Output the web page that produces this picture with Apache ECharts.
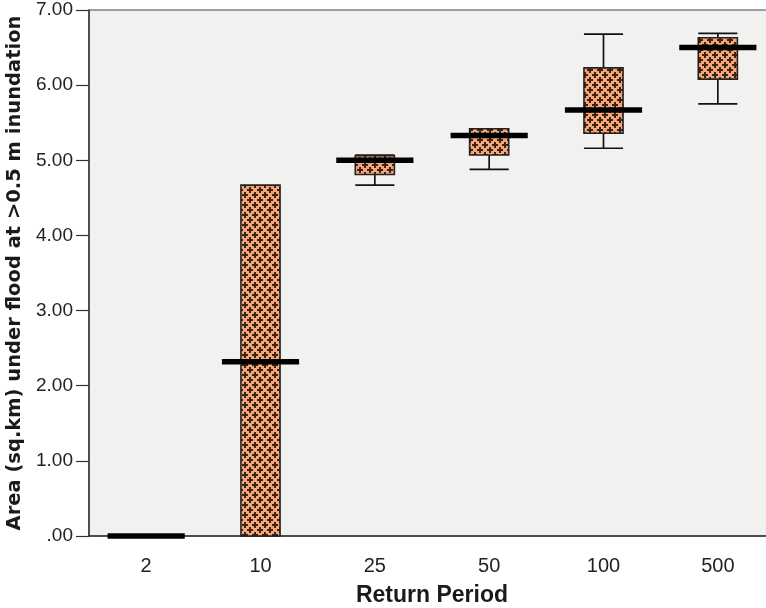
<!DOCTYPE html>
<html>
<head>
<meta charset="utf-8">
<script src="https://cdn.jsdelivr.net/npm/echarts@6/dist/echarts.min.js"></script>
<style>
html,body{margin:0;padding:0;background:#fff;}
#chart{width:766px;height:608px;}
</style>
</head>
<body>
<div id="chart"></div>
<script>
// ---- data ----
var categories = ['2', '10', '25', '50', '100', '500'];
var minVals    = [0, 0,    4.67, 4.88, 5.16, 5.75];
var q1Vals     = [0, 0,    4.81, 5.07, 5.36, 6.08];
var medianVals = [0, 2.32, 5.00, 5.33, 5.67, 6.50];
var q3Vals     = [0, 4.67, 5.06, 5.42, 6.23, 6.63];
var maxVals    = [0, 4.67, 5.07, 5.42, 6.68, 6.69];
var yTicks = [0, 1, 2, 3, 4, 5, 6, 7];

// pattern tile
function makeTile() {
  var c = document.createElement('canvas');
  c.width = 10; c.height = 10;
  var g = c.getContext('2d');
  g.fillStyle = '#F6A676';
  g.fillRect(0, 0, 10, 10);
  g.fillStyle = '#3b2315';
  function star(x, y) {
    g.fillRect(x - 1, y - 3, 2, 6);
    g.fillRect(x - 3, y - 1, 6, 2);
  }
  star(5, 5);
  star(0, 0); star(10, 0); star(0, 10); star(10, 10);
  return c;
}
var tile = makeTile();

var data = categories.map(function (c, i) {
  return [i, minVals[i], q1Vals[i], medianVals[i], q3Vals[i], maxVals[i]];
});

var chart = echarts.init(document.getElementById('chart'));

function renderItem(params, api) {
  var idx = api.value(0);
  var band = api.size([1, 0])[0];
  var bw = band * 0.342;
  var mw = band * 0.675;
  var pMin = api.coord([idx, api.value(1)]);
  var pQ1 = api.coord([idx, api.value(2)]);
  var pMed = api.coord([idx, api.value(3)]);
  var pQ3 = api.coord([idx, api.value(4)]);
  var pMax = api.coord([idx, api.value(5)]);
  var x = pMin[0];
  var children = [];
  var lineStyle = { stroke: '#111', lineWidth: 1.7 };
  if (pMin[1] - pQ1[1] > 0.5) {
    children.push({ type: 'line', shape: { x1: x, y1: pMin[1], x2: x, y2: pQ1[1] }, style: lineStyle });
    children.push({ type: 'line', shape: { x1: x - bw / 2, y1: pMin[1], x2: x + bw / 2, y2: pMin[1] }, style: lineStyle });
  }
  if (pQ3[1] - pMax[1] > 0.5) {
    children.push({ type: 'line', shape: { x1: x, y1: pQ3[1], x2: x, y2: pMax[1] }, style: lineStyle });
    children.push({ type: 'line', shape: { x1: x - bw / 2, y1: pMax[1], x2: x + bw / 2, y2: pMax[1] }, style: lineStyle });
  }
  children.push({
    type: 'rect',
    shape: { x: x - bw / 2, y: pQ3[1], width: bw, height: pQ1[1] - pQ3[1] },
    style: { fill: { image: tile, repeat: 'repeat' }, stroke: '#222', lineWidth: 1.6 }
  });
  children.push({
    type: 'line',
    shape: { x1: x - mw / 2, y1: pMed[1], x2: x + mw / 2, y2: pMed[1] },
    style: { stroke: '#000', lineWidth: 5.5, lineCap: 'butt' }
  });
  return { type: 'group', children: children };
}

chart.setOption({
  backgroundColor: '#ffffff',
  animation: false,
  grid: {
    left: 89, top: 10, width: 686, height: 526,
    outerBoundsMode: 'none', containLabel: false,
    show: true, backgroundColor: '#F1F2F0', borderColor: '#444', borderWidth: 1
  },
  xAxis: {
    type: 'category',
    data: categories,
    boundaryGap: true,
    name: 'Return Period',
    nameLocation: 'middle',
    nameGap: 48,
    nameTextStyle: { fontFamily: 'Liberation Sans', fontWeight: 'bold', fontSize: 23, color: '#1a1a1a' },
    axisLine: { lineStyle: { color: '#333', width: 1.5 } },
    axisTick: { alignWithLabel: true, length: 13, lineStyle: { color: '#333', width: 1.2 } },
    axisLabel: { margin: 20, fontFamily: 'Liberation Sans', fontSize: 20, color: '#222' },
    splitLine: { show: false }
  },
  yAxis: {
    type: 'value',
    min: yTicks[0], max: yTicks[yTicks.length - 1], interval: 1,
    name: 'Area (sq.km) under flood at >0.5 m inundation',
    nameLocation: 'middle',
    nameGap: 61,
    nameTextStyle: { fontFamily: 'DejaVu Sans', fontWeight: 'bold', fontSize: 19.5, color: '#1a1a1a' },
    axisLine: { show: true, lineStyle: { color: '#333', width: 1.5 } },
    axisTick: { show: true, length: 13, lineStyle: { color: '#333', width: 1.2 } },
    axisLabel: {
      margin: 16, fontFamily: 'Liberation Sans', fontSize: 19, color: '#222',
      formatter: function (v) { return v === 0 ? '.00' : v.toFixed(2); }
    },
    splitLine: { show: false }
  },
  series: [{
    type: 'custom',
    renderItem: renderItem,
    encode: { x: 0, y: [1, 2, 3, 4, 5] },
    data: data,
    clip: false
  }]
});
</script>
</body>
</html>
